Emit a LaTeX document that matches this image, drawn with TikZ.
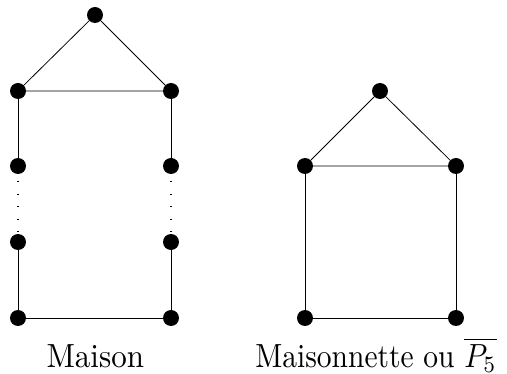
\documentclass[tikz,border=0pt]{standalone}
\usepackage{graphicx}
\begin{document}
\begin{tikzpicture}[x=1pt,y=-1pt,
  vtx/.style={circle,fill=black,inner sep=0pt,minimum size=16pt},
  edge/.style={line width=0.8pt},
  dotline/.style={line width=1.3pt,dash pattern=on 1.3pt off 11.2pt,dash phase=-7pt},
  lbl/.style={anchor=base,inner sep=0pt}]
\useasboundingbox (0,0) rectangle (507,374);
% left house
\node[vtx] (a) at (95,15) {};
\node[vtx] (b) at (18,91) {};
\node[vtx] (c) at (171,91) {};
\node[vtx] (d) at (18,166) {};
\node[vtx] (e) at (171,166) {};
\node[vtx] (f) at (18,242) {};
\node[vtx] (g) at (171,242) {};
\node[vtx] (h) at (18,318) {};
\node[vtx] (i) at (171,318) {};
\draw[edge] (a) -- (b) -- (c) -- (a);
\draw[edge] (b) -- (d);
\draw[edge] (c) -- (e);
\draw[edge] (f) -- (h) -- (i) -- (g);
\draw[dotline] (d.south) -- (f.north);
\draw[dotline] (e.south) -- (g.north);
% right house
\node[vtx] (p) at (380,91) {};
\node[vtx] (q) at (305,166) {};
\node[vtx] (r) at (456,166) {};
\node[vtx] (s) at (305,318) {};
\node[vtx] (t) at (456,318) {};
\draw[edge] (p) -- (q) -- (r) -- (p);
\draw[edge] (q) -- (s) -- (t) -- (r);
% labels
\node[lbl] (l1) at (95.3,367.3) {\scalebox{3.1}[3.35]{Maison}};
\node[lbl] (l2) at (376,367.3) {\scalebox{2.95}[3.35]{Maisonnette ou $\overline{P_5}$}};
\end{tikzpicture}
\end{document}
